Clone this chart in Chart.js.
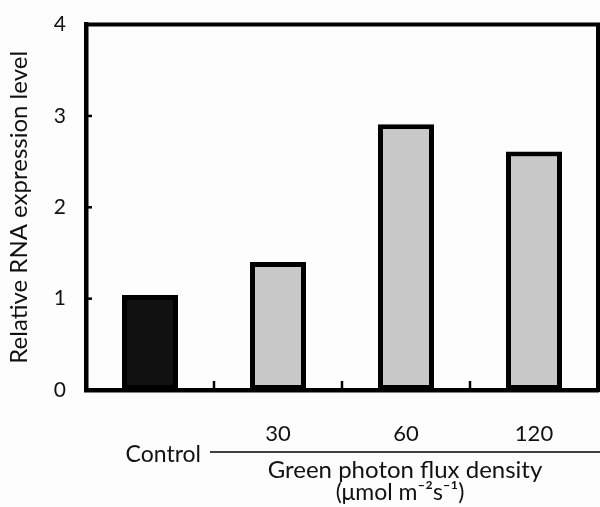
<!DOCTYPE html>
<html>
<head>
<meta charset="utf-8">
<script src="https://cdn.jsdelivr.net/npm/chart.js@4.4.1/dist/chart.umd.min.js"></script>
<style>
html,body{margin:0;padding:0;background:#fdfdfd;}
#wrap{width:600px;height:507px;position:relative;}
</style>
</head>
<body>
<div id="wrap"><canvas id="c" width="600" height="507"></canvas></div>
<script>
const categories = ['Control', '30', '60', '120'];
const values = [1.04, 1.40, 2.91, 2.61];
const yTicks = [0, 1, 2, 3, 4];
const yTitle = 'Relative RNA expression level';
const xGroupLabel = 'Control';
const xTitle1 = 'Green photon flux density';
const xTitle2 = '(μmol m⁻²s⁻¹)';

const FONT = 'Lato, "Open Sans", sans-serif';

const decor = {
  id: 'decor',
  afterDatasetsDraw(chart) {
    const ctx = chart.ctx;
    const a = chart.chartArea;
    const xs = chart.scales.x, ys = chart.scales.y;
    ctx.save();
    ctx.strokeStyle = '#000';
    ctx.lineCap = 'butt';
    // top and right frame
    ctx.lineWidth = 4;
    ctx.beginPath();
    ctx.moveTo(a.left - 2, a.top);
    ctx.lineTo(a.right, a.top);
    ctx.lineTo(a.right, a.bottom + 2);
    ctx.stroke();
    // inward y ticks
    ctx.lineWidth = 2.5;
    yTicks.slice(1, -1).forEach(v => {
      const y = ys.getPixelForValue(v);
      ctx.beginPath();
      ctx.moveTo(a.left, y);
      ctx.lineTo(a.left + 6, y);
      ctx.stroke();
    });
    // upward x ticks between categories
    for (let i = 0; i < categories.length - 1; i++) {
      const x = (xs.getPixelForValue(i) + xs.getPixelForValue(i + 1)) / 2;
      ctx.beginPath();
      ctx.moveTo(x, a.bottom);
      ctx.lineTo(x, a.bottom - 9);
      ctx.stroke();
    }
    // category labels
    ctx.fillStyle = '#111';
    ctx.font = '22px ' + FONT;
    ctx.textAlign = 'center';
    ctx.textBaseline = 'alphabetic';
    for (let i = 1; i < categories.length; i++) {
      ctx.fillText(categories[i], xs.getPixelForValue(i), 441);
    }
    // group line
    ctx.lineWidth = 1.5;
    ctx.beginPath();
    ctx.moveTo(210, 452);
    ctx.lineTo(600, 452);
    ctx.stroke();
    ctx.font = '23px ' + FONT;
    ctx.textAlign = 'right';
    ctx.fillText(xGroupLabel, 201, 462);
    ctx.font = '24px ' + FONT;
    ctx.textAlign = 'center';
    ctx.fillText(xTitle1, 405, 478);
    ctx.font = '23px ' + FONT;
    ctx.fillText(xTitle2, 400, 500);
    ctx.restore();
  }
};

new Chart(document.getElementById('c'), {
  type: 'bar',
  data: {
    labels: categories,
    datasets: [{
      data: values,
      backgroundColor: ['#111111', '#c8c8c8', '#c8c8c8', '#c8c8c8'],
      borderColor: '#000',
      borderWidth: 5,
      borderSkipped: false,
      barPercentage: 0.875,
      categoryPercentage: 0.5
    }]
  },
  options: {
    responsive: false,
    animation: false,
    devicePixelRatio: 1,
    layout: { padding: { top: 21, right: 2, left: 0, bottom: 0 } },
    plugins: { legend: { display: false }, tooltip: { enabled: false } },
    scales: {
      x: {
        grid: { display: false },
        border: { display: true, color: '#000', width: 4.5 },
        ticks: { display: false },
        afterFit(s) { s.height = 117; }
      },
      y: {
        min: 0, max: 4,
        afterBuildTicks(s) { s.ticks = yTicks.map(v => ({ value: v })); },
        grid: { display: false },
        border: { display: true, color: '#000', width: 4.5 },
        ticks: { font: { size: 21, family: FONT }, color: '#111', padding: 12 },
        title: { display: true, text: yTitle, font: { size: 24, family: FONT }, color: '#111', padding: { top: 5, bottom: 0 } },
        afterFit(s) { s.width = 86; }
      }
    }
  },
  plugins: [decor]
});
</script>
</body>
</html>
